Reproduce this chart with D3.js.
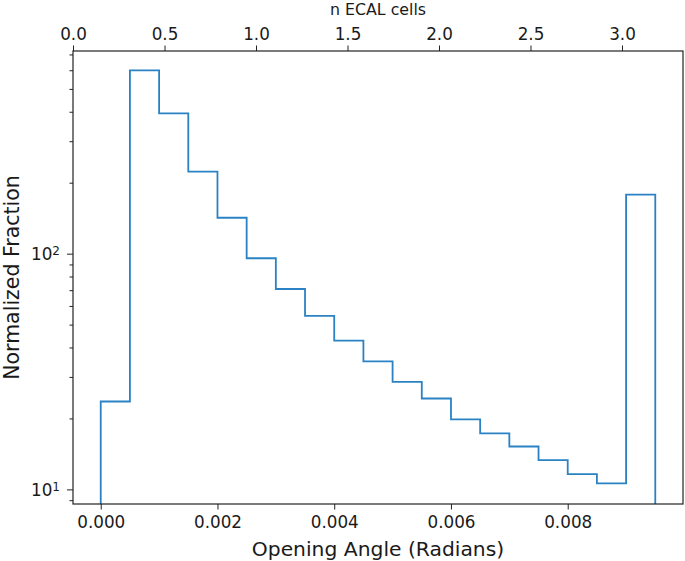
<!DOCTYPE html>
<html>
<head>
<meta charset="utf-8">
<script src="https://cdn.jsdelivr.net/npm/d3@7"></script>
<style>
  html, body { margin: 0; padding: 0; background: #fff; }
  text { font-family: "DejaVu Sans", sans-serif; fill: #1a1a1a; }
</style>
</head>
<body>
<svg id="chart" width="685" height="561"></svg>
<script>
// ---- data ----
const binEdges = [0.0000, 0.0005, 0.0010, 0.0015, 0.0020, 0.0025, 0.0030, 0.0035, 0.0040, 0.0045,
                  0.0050, 0.0055, 0.0060, 0.0065, 0.0070, 0.0075, 0.0080, 0.0085, 0.0090, 0.0095];
const binValues = [23.6, 599, 394, 223, 142, 95.6, 70.8, 54.5, 42.8, 34.9,
                   28.6, 24.3, 19.8, 17.3, 15.2, 13.3, 11.6, 10.6, 178];
const bottomTicks = [0.000, 0.002, 0.004, 0.006, 0.008];
const topTicks = [0.0, 0.5, 1.0, 1.5, 2.0, 2.5, 3.0];
const yMajorTicks = [10, 100];
const yMinorTicks = [9, 20, 30, 40, 50, 60, 70, 80, 90, 200, 300, 400, 500, 600, 700];
const xDomain = [-0.000475, 0.009975];
const topDomain = [0, 10 / 3];
const yDomain = [8.67, 724];

// ---- layout ----
const L = 73, R = 683, T = 51, B = 504;
const svg = d3.select("#chart");

const x = d3.scaleLinear().domain(xDomain).range([L, R]);
const xTop = d3.scaleLinear().domain(topDomain).range([L, R]);
const y = d3.scaleLog().domain(yDomain).range([B, T]);

// clip
svg.append("defs").append("clipPath").attr("id", "clip")
  .append("rect").attr("x", L).attr("y", T).attr("width", R - L).attr("height", B - T);

// histogram step line
const pts = [];
pts.push([binEdges[0], yDomain[0] / 2]);
binValues.forEach((v, i) => {
  pts.push([binEdges[i], v]);
  pts.push([binEdges[i + 1], v]);
});
pts.push([binEdges[binEdges.length - 1], yDomain[0] / 2]);

const line = d3.line().x(d => x(d[0])).y(d => y(d[1]));
svg.append("path")
  .attr("clip-path", "url(#clip)")
  .attr("d", line(pts))
  .attr("fill", "none")
  .attr("stroke", "#2a82c4")
  .attr("stroke-width", 1.8)
  .attr("stroke-linejoin", "miter");

// axes
const axisColor = "#222";
function styleAxis(g) {
  g.select(".domain").remove();
  g.selectAll(".tick line").attr("stroke", axisColor).attr("stroke-width", 1);
  g.selectAll(".tick text").attr("font-family", "DejaVu Sans").attr("fill", "#1a1a1a");
}

// bottom axis
const gB = svg.append("g").attr("transform", `translate(0,${B})`)
  .call(d3.axisBottom(x).tickValues(bottomTicks).tickFormat(d3.format(".3f")).tickSize(5.5).tickPadding(7));
styleAxis(gB);
gB.selectAll(".tick text").attr("font-size", 16.8);

// top axis
const gT = svg.append("g").attr("transform", `translate(0,${T})`)
  .call(d3.axisTop(xTop).tickValues(topTicks).tickFormat(d3.format(".1f")).tickSize(5.5).tickPadding(6));
styleAxis(gT);
gT.selectAll(".tick text").attr("font-size", 16.8);

// left axis major
const gL = svg.append("g").attr("transform", `translate(${L},0)`)
  .call(d3.axisLeft(y).tickValues(yMajorTicks).tickSize(6).tickFormat(""));
styleAxis(gL);
gL.selectAll(".tick").each(function(d) {
  const t = d3.select(this).append("text")
    .attr("x", -13).attr("dy", "0.36em")
    .attr("text-anchor", "end")
    .attr("font-size", 16.8);
  t.append("tspan").text("10");
  t.append("tspan").attr("dy", "-0.45em").attr("font-size", 12).text(String(Math.round(Math.log10(d))));
});
// left axis minor
const gLm = svg.append("g").attr("transform", `translate(${L},0)`)
  .call(d3.axisLeft(y).tickValues(yMinorTicks.filter(v => v >= yDomain[0] && v <= yDomain[1])).tickSize(3.5).tickFormat(""));
styleAxis(gLm);

// frame
svg.append("rect")
  .attr("x", L).attr("y", T).attr("width", R - L).attr("height", B - T)
  .attr("fill", "none").attr("stroke", axisColor).attr("stroke-width", 1.2);

// labels
svg.append("text").attr("x", (L + R) / 2).attr("y", 556)
  .attr("text-anchor", "middle").attr("font-size", 20.3)
  .text("Opening Angle (Radians)");
svg.append("text").attr("x", (L + R) / 2).attr("y", 14.5)
  .attr("text-anchor", "middle").attr("font-size", 15.8)
  .text("n ECAL cells");
svg.append("text")
  .attr("transform", `translate(18.5,${(T + B) / 2}) rotate(-90)`)
  .attr("text-anchor", "middle").attr("font-size", 20.5)
  .text("Normalized Fraction");
</script>
</body>
</html>
